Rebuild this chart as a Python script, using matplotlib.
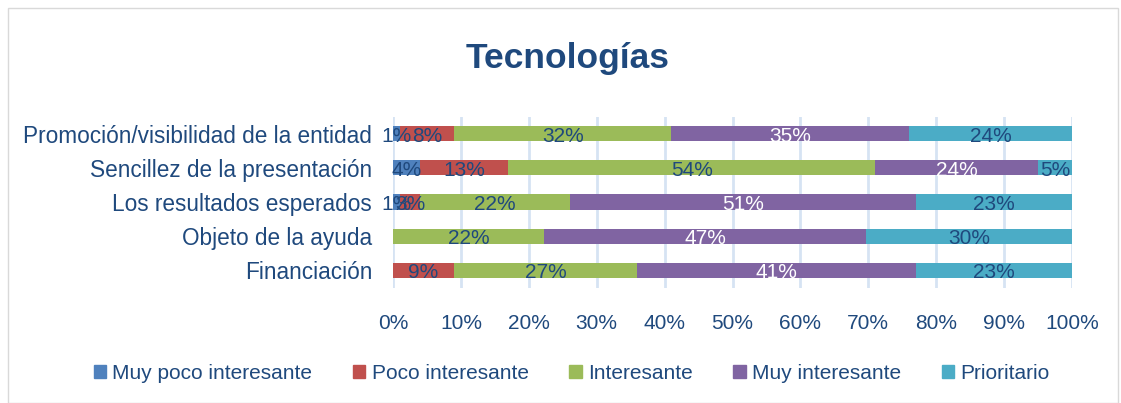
import matplotlib.pyplot as plt
import matplotlib.patches as mpatches
import numpy as np

# data
categories = ['Promoción/visibilidad de la entidad', 'Sencillez de la presentación',
              'Los resultados esperados', 'Objeto de la ayuda', 'Financiación']
series = ['Muy poco interesante', 'Poco interesante', 'Interesante',
          'Muy interesante', 'Prioritario']
muy_poco = [1, 4, 1, 0, 0]
poco = [8, 13, 3, 0, 9]
interesante = [32, 54, 22, 22, 27]
muy_interesante = [35, 24, 51, 47, 41]
prioritario = [24, 5, 23, 30, 23]
ticks = [0, 10, 20, 30, 40, 50, 60, 70, 80, 90, 100]

colors = ['#4F81BD', '#C0504D', '#9BBB59', '#8064A2', '#4BACC6']
label_colors = ['#1F497D', '#1F497D', '#1F497D', 'white', '#1F497D']
text_color = '#1F497D'

plt.rcParams['font.family'] = ['Liberation Sans', 'DejaVu Sans']

fig = plt.figure(figsize=(11.21, 4.03), dpi=100)
ax = fig.add_axes([0.3506, 0.2866, 0.6057, 0.4243])

vals = np.array([muy_poco, poco, interesante, muy_interesante, prioritario], dtype=float)
totals = vals.sum(axis=0)
pct = vals / totals * 100  # 100% stacked
y = np.arange(len(categories))

left = np.zeros(len(categories))
for i, name in enumerate(series):
    ax.barh(y, pct[i], left=left, height=0.44, color=colors[i], label=name, zorder=3)
    for j in range(len(categories)):
        if vals[i, j] > 0:
            ax.text(left[j] + pct[i, j] / 2, y[j] + 0.07, f'{int(vals[i, j])}%',
                    ha='center', va='center', fontsize=15, color=label_colors[i], zorder=4)
    left += pct[i]

ax.set_xlim(0, 100)
ax.set_ylim(4.5, -0.5)
ax.set_yticks(y)
ax.set_yticklabels(categories, fontsize=16.3, color=text_color)
ax.set_xticks(ticks)
ax.set_xticklabels([f'{t}%' for t in ticks], fontsize=15, color=text_color)
ax.tick_params(length=0, pad=15, axis='y')
ax.tick_params(length=0, pad=19, axis='x')
ax.grid(axis='x', color='#D6E3F3', linewidth=2, zorder=0)
for s in ax.spines.values():
    s.set_visible(False)

fig.text(0.506, 0.855, 'Tecnologías', ha='center', va='center', fontsize=25.5,
         fontweight='bold', color=text_color)

handles = [mpatches.Patch(color=c) for c in colors]
fig.legend(handles, series, loc='center', bbox_to_anchor=(0.51, 0.073), ncol=5,
           frameon=False, fontsize=15, handlelength=0.6, handleheight=0.6,
           handletextpad=0.3, columnspacing=1.95, labelcolor=text_color)

fig.patches.append(mpatches.Rectangle((0.007, 0.0), 0.99, 0.98, transform=fig.transFigure,
                                      fill=False, edgecolor='#D9D9D9', linewidth=1))

fig.savefig('out.png', dpi=100)
